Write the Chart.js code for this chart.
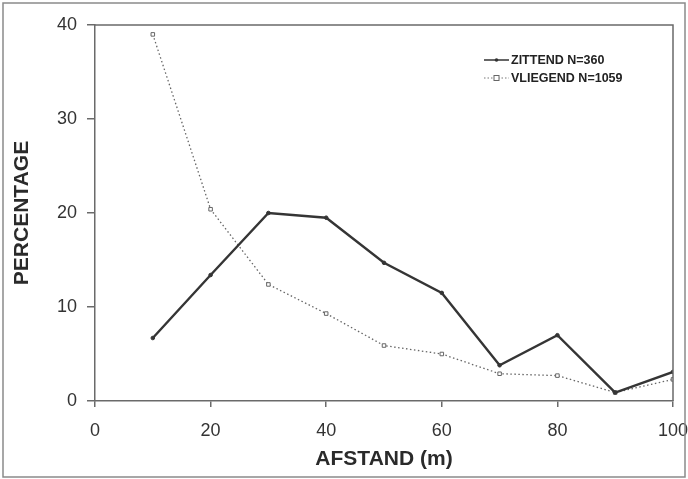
<!DOCTYPE html>
<html>
<head>
<meta charset="utf-8">
<script src="https://cdn.jsdelivr.net/npm/chart.js@4.4.1/dist/chart.umd.min.js"></script>
<style>
  html, body { margin: 0; padding: 0; background: #fff; }
  #wrap { width: 688px; height: 479px; position: relative; }
</style>
</head>
<body>
<div id="wrap"><canvas id="afstand_chart" width="688" height="479"></canvas></div>
<script>
// Afstand (m) per klasse
const afstand = [10, 20, 30, 40, 50, 60, 70, 80, 90, 100];

// percentages per groep
const zittend = [6.7, 13.4, 20.0, 19.5, 14.7, 11.5, 3.8, 7.0, 0.9, 3.1];
const vliegend = [39.0, 20.4, 12.4, 9.3, 5.9, 5.0, 2.9, 2.7, 0.9, 2.3];

// legend texts
const legend_labels = ["ZITTEND N=360", "VLIEGEND N=1059"];

const font_family = "'Liberation Sans', Arial, sans-serif";
const axis_color = "#6a6a6a";
const text_color = "#333";

function toPoints(values) {
  return afstand.map((x, i) => ({ x: x, y: values[i] }));
}

// frame around plot + outer border + legend drawn by hand
const framePlugin = {
  id: "frame",
  afterDraw(chart) {
    const c = chart.ctx;
    const a = chart.chartArea;
    c.save();
    // outer border
    c.strokeStyle = "#8a8a8a";
    c.lineWidth = 1.5;
    c.strokeRect(3, 3, 682, 474);
    // top and right edge of plot
    c.strokeStyle = axis_color;
    c.lineWidth = 1.5;
    c.beginPath();
    c.moveTo(a.left, a.top);
    c.lineTo(a.right, a.top);
    c.lineTo(a.right, a.bottom);
    c.stroke();

    // legend
    const lx = 484, ly = [60, 78];
    c.font = "bold 12.5px " + font_family;
    c.fillStyle = "#222";
    c.textBaseline = "middle";

    c.strokeStyle = "#333";
    c.lineWidth = 1.5;
    c.beginPath();
    c.moveTo(lx, ly[0]);
    c.lineTo(lx + 25, ly[0]);
    c.stroke();
    c.beginPath();
    c.arc(lx + 12.5, ly[0], 1.8, 0, Math.PI * 2);
    c.fillStyle = "#333";
    c.fill();
    c.fillStyle = "#222";
    c.fillText(legend_labels[0], lx + 27, ly[0] + 0.5);

    c.strokeStyle = "#777";
    c.lineWidth = 1;
    c.setLineDash([1.5, 2]);
    c.beginPath();
    c.moveTo(lx, ly[1]);
    c.lineTo(lx + 25, ly[1]);
    c.stroke();
    c.setLineDash([]);
    c.fillStyle = "#fff";
    c.fillRect(lx + 10, ly[1] - 2.5, 5, 5);
    c.strokeStyle = "#666";
    c.strokeRect(lx + 10, ly[1] - 2.5, 5, 5);
    c.fillStyle = "#222";
    c.fillText(legend_labels[1], lx + 27, ly[1] + 0.5);
    c.restore();
  }
};

const ctx = document.getElementById("afstand_chart").getContext("2d");

new Chart(ctx, {
  type: "line",
  data: {
    datasets: [
      {
        label: legend_labels[0],
        data: toPoints(zittend),
        borderColor: "#353535",
        backgroundColor: "#353535",
        borderWidth: 2.4,
        pointStyle: "circle",
        pointRadius: 1.8,
        pointBorderWidth: 1,
        tension: 0,
        fill: false
      },
      {
        label: legend_labels[1],
        data: toPoints(vliegend),
        borderColor: "#666",
        backgroundColor: "#ffffff",
        borderWidth: 1.3,
        borderDash: [1.5, 2.5],
        pointStyle: "rect",
        pointRadius: 2.5,
        pointBorderWidth: 1,
        pointBorderColor: "#666",
        tension: 0,
        fill: false
      }
    ]
  },
  options: {
    responsive: false,
    animation: false,
    devicePixelRatio: 1,
    layout: { padding: { top: 25, right: 15, left: 0, bottom: 0 } },
    plugins: {
      legend: { display: false },
      tooltip: { enabled: false }
    },
    scales: {
      x: {
        type: "linear",
        min: 0,
        max: 100,
        ticks: {
          stepSize: 20,
          color: text_color,
          font: { family: font_family, size: 18 },
          padding: 13,
          maxRotation: 0
        },
        grid: { drawOnChartArea: false, drawTicks: true, tickLength: 6, color: axis_color, lineWidth: 1.5 },
        border: { color: axis_color, width: 1.5 },
        title: {
          display: true,
          text: "AFSTAND (m)",
          color: "#2a2a2a",
          font: { family: font_family, size: 21, weight: "bold" },
          padding: { top: 0, bottom: 7 }
        },
        afterFit(scale) {
          scale.height = 78;
          scale.paddingLeft = 0;
          scale.paddingRight = 0;
        }
      },
      y: {
        min: 0,
        max: 40,
        ticks: {
          stepSize: 10,
          color: text_color,
          font: { family: font_family, size: 18 },
          padding: 10
        },
        grid: { drawOnChartArea: false, drawTicks: true, tickLength: 8, color: axis_color, lineWidth: 1.5 },
        border: { color: axis_color, width: 1.5 },
        title: {
          display: true,
          text: "PERCENTAGE",
          color: "#2a2a2a",
          font: { family: font_family, size: 21, weight: "bold" },
          padding: { top: 10, bottom: 0 }
        },
        afterFit(scale) {
          scale.width = 95;
          scale.paddingTop = 0;
          scale.paddingBottom = 0;
        }
      }
    }
  },
  plugins: [framePlugin]
});
</script>
</body>
</html>
